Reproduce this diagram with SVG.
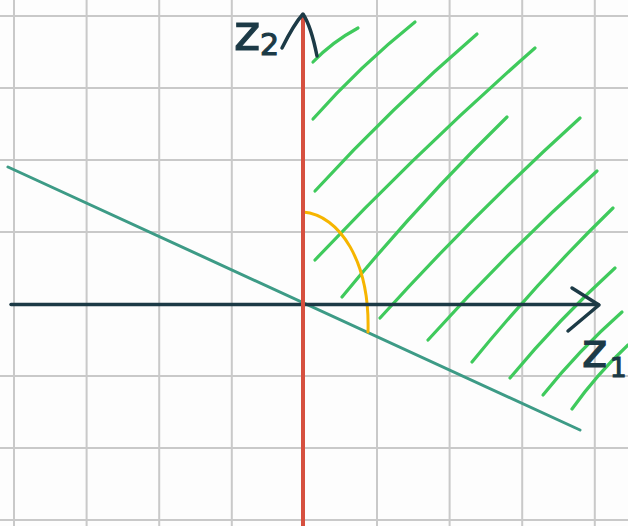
<svg xmlns="http://www.w3.org/2000/svg" width="628" height="526" viewBox="0 0 628 526">
<style>
.grid{stroke:#c9c9c9;stroke-width:2;fill:none}
.hatch{stroke:#3fca5c;stroke-width:3.2;fill:none;stroke-linecap:round}
.ink{stroke:#1c3a46;fill:none;stroke-linecap:round;stroke-linejoin:round}
.lbl{font-family:"DejaVu Sans","Liberation Sans",sans-serif;fill:#1c3a46;stroke:#1c3a46;stroke-width:1.2}
</style>
<rect width="628" height="526" fill="#fdfdfd"/>
<g id="grid" class="grid">
<path d="M14 0V526M86.6 0V526M159.2 0V526M231.8 0V526M377 0V526M449.6 0V526M522.2 0V526M594.8 0V526"/>
<path d="M0 16H628M0 88H628M0 160H628M0 232H628M0 376H628M0 448H628M0 520H628"/>
</g>
<g id="hatch" class="hatch">
<path d="M313 62Q332 42 358 28"/>
<path d="M313 119Q360 66 415 22"/>
<path d="M315 191Q391 108 477 34"/>
<path d="M315 260Q420 149 535 48"/>
<path d="M342 297Q420 202 507 117"/>
<path d="M380 318Q475 213 580 118"/>
<path d="M428 340Q508 251 597 171"/>
<path d="M472 362Q538 281 613 208"/>
<path d="M510 378Q559 319 615 268"/>
<path d="M543 395Q579 350 622 312"/>
<path d="M572 409Q597 374 628 345"/>
</g>
<g id="line">
<path d="M8 167L580 430" stroke="#3d9b86" stroke-width="3" stroke-linecap="round" fill="none"/>
</g>
<g id="angle">
<path d="M303 212C340 215 370 262 368 332" stroke="#f6b500" stroke-width="3" fill="none" stroke-linecap="round"/>
</g>
<g id="z1-axis">
<path class="ink" d="M11 304.5H598" stroke-width="3.5"/>
<path class="ink" d="M572 288L599 305L568 331" stroke-width="3.5"/>
</g>
<g id="z2-axis">
<path d="M303 14V526" stroke="#d6503f" stroke-width="4" fill="none"/>
<path class="ink" d="M282 48Q294 24 303 14Q311 26 317 56" stroke-width="3.5"/>
</g>
<g id="labels">
<text class="lbl" x="234" y="50" font-size="50">z</text>
<text class="lbl" x="260" y="55" font-size="30">2</text>
<text class="lbl" x="582" y="367" font-size="48">z</text>
<text class="lbl" x="610" y="377" font-size="26">1</text>
</g>
</svg>
